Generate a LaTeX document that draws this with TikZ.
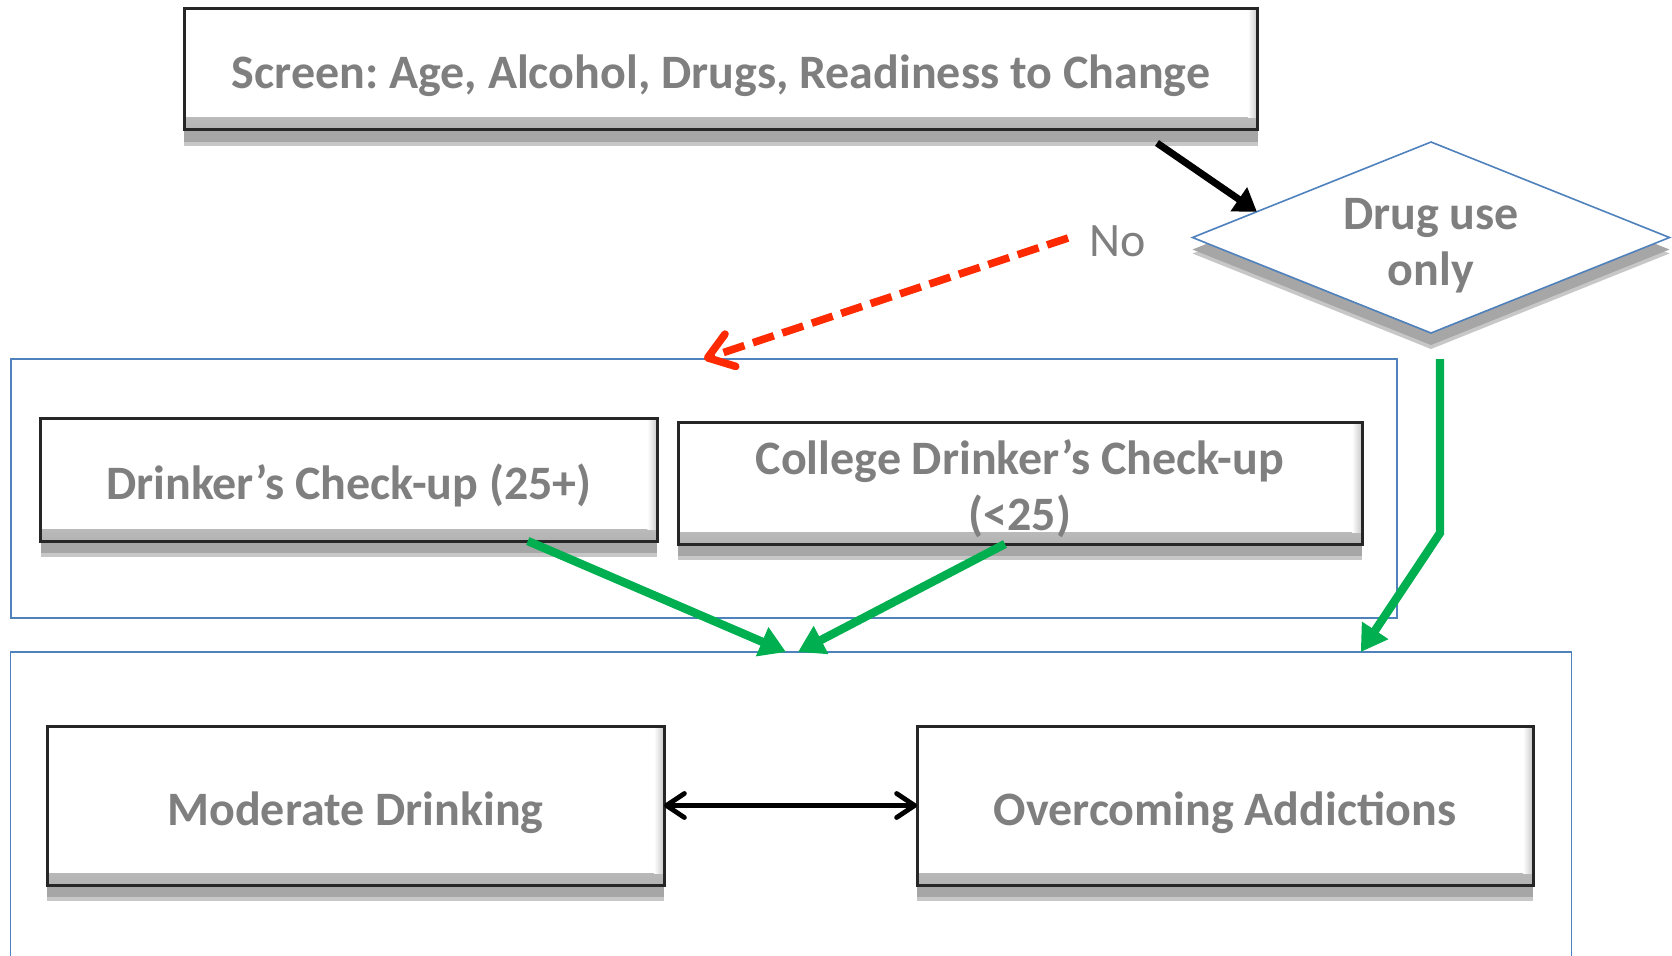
\documentclass[tikz,border=0pt]{standalone}
\usepackage{fontspec}
\setmainfont{Carlito}
\frenchspacing
\usetikzlibrary{shapes.geometric,arrows.meta,shadows,calc}
\definecolor{txtgray}{HTML}{7F7F7F}
\definecolor{boxblue}{HTML}{4F81BD}
\definecolor{arrgreen}{HTML}{00B050}
\definecolor{arrred}{HTML}{FF2A00}

\begin{document}
\begin{tikzpicture}[x=0.5pt, y=-0.5pt,
    boxshadow/.style={drop shadow={shadow xshift=0pt, shadow yshift=-8pt, fill=black!22, opacity=1},
        drop shadow={shadow xshift=0pt, shadow yshift=-6pt, fill=black!35, opacity=1}},
    bevel/.style={path picture={
        \shade[top color=white, bottom color=black!30]
            ([yshift=6pt]path picture bounding box.south west) rectangle (path picture bounding box.south east);
        \shade[left color=white, right color=black!22]
            ([xshift=-5pt]path picture bounding box.north east) rectangle ([yshift=6pt]path picture bounding box.south east);}},
    stepbox/.style={draw=black!85, line width=1.5pt, fill=white, inner sep=0pt, outer sep=0pt,
        boxshadow, bevel, font=\fontsize{24}{28}\selectfont\bfseries, text=txtgray, align=center},
    decision/.style={diamond, aspect=2.5, draw=boxblue, line width=0.8pt, fill=white,
        inner sep=0pt, outer sep=0pt, boxshadow,
        font=\fontsize{24}{28}\selectfont\bfseries, text=txtgray, align=center},
    groupbox/.style={draw=boxblue, line width=0.8pt, inner sep=0pt, outer sep=0pt},
    blackarrow/.style={draw=black, line width=3.5pt, -{Triangle[length=11pt,width=14pt]}},
    redarrow/.style={draw=arrred, line width=3.8pt, dash pattern=on 11pt off 4.5pt,
        -{Straight Barb[length=12pt,width=17pt,round]}},
    greenarrow/.style={draw=arrgreen, line width=4.2pt, -{Triangle[length=13pt,width=15pt]}},
    doublearrow/.style={draw=black, line width=2.4pt,
        {Straight Barb[length=9pt,width=12pt,round]}-{Straight Barb[length=9pt,width=12pt,round]}}]
    \useasboundingbox (0,0) rectangle (1672,955);
    \clip (0,0) rectangle (1672,955);

    % Group frames
    \node[groupbox, minimum width=693pt, minimum height=129.5pt] (grpcheck) at (704,488.5) {};
    \node[groupbox, minimum width=780.5pt, minimum height=160pt] (grptreat) at (791,812) {};

    % Screening and decision
    \node[stepbox, minimum width=536.75pt, minimum height=60.75pt] (screen) at (721,69)
        {\rule{0pt}{24pt}Screen: Age, Alcohol, Drugs, Readiness to Change};
    \node[decision, minimum width=238.5pt, minimum height=95.5pt] (druguse) at (1431,237.5)
        {\rule{0pt}{24pt}Drug use\\only};
    \node[font=\fontsize{24}{28}\selectfont, text=txtgray] (nolabel) at (1118,241) {No};

    % Check-up programs
    \node[stepbox, minimum width=308.25pt, minimum height=61.5pt] (drinker) at (349,479.5)
        {\rule{0pt}{24pt}Drinker’s Check-up (25+)};
    \node[stepbox, minimum width=342pt, minimum height=61pt] (college) at (1020,483)
        {\rule{0pt}{23pt}College Drinker’s Check-up\\(<25)};

    % Treatment programs
    \node[stepbox, minimum width=308.5pt, minimum height=79.5pt] (moderate) at (355.5,805.5)
        {\rule{0pt}{24pt}Moderate Drinking};
    \node[stepbox, minimum width=308pt, minimum height=79.5pt] (overcome) at (1225,805.5)
        {\rule{0pt}{24pt}Overcoming Addictions};

    % Connectors
    \coordinate (scrOut) at (1157,143);
    \draw[blackarrow] (scrOut) -- ($(druguse.west)!0.27!(druguse.north)$);

    \coordinate (noStart) at (1068,238);
    \draw[redarrow] (noStart) -- (grpcheck.north);

    \draw[greenarrow] ($(drinker.south west)!0.79!(drinker.south east)$) -- ($(grptreat.north)+(-5,0)$);
    \draw[greenarrow] ($(college.south west)!0.478!(college.south east)$) -- ($(grptreat.north)+(7,0)$);

    \coordinate (drugOut) at (1440,359);
    \coordinate (drugBend) at (1440,533);
    \draw[greenarrow] (drugOut) -- (drugBend) -- ($(grptreat.north west)!0.865!(grptreat.north east)$);

    \draw[doublearrow] (moderate.east) -- (overcome.west);
\end{tikzpicture}
\end{document}
